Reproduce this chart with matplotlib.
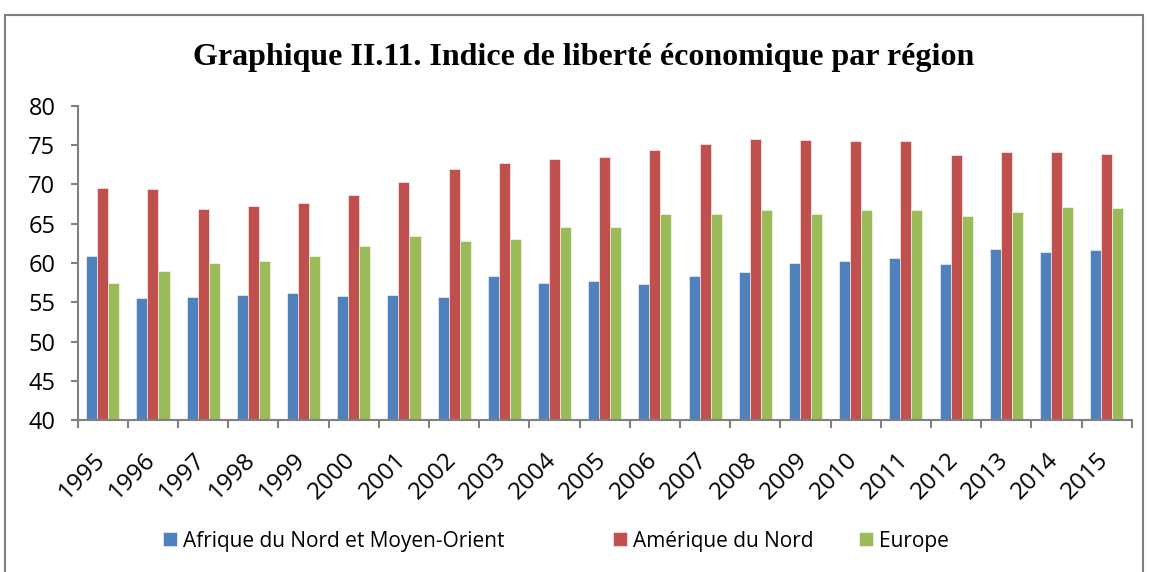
import matplotlib.pyplot as plt
import matplotlib.transforms as mtransforms
import numpy as np
from matplotlib.patches import Rectangle

# years on x-axis
years = [str(y) for y in range(1995, 2016)]

# index values
afrique = [60.9, 55.6, 55.7, 55.9, 56.2, 55.8, 55.9, 55.7, 58.4, 57.5, 57.65,
           57.3, 58.3, 58.8, 60.0, 60.3, 60.6, 59.85, 61.8, 61.4, 61.6]
amerique = [69.6, 69.4, 66.9, 67.3, 67.7, 68.6, 70.3, 72.0, 72.75, 73.3, 73.55,
            74.4, 75.1, 75.8, 75.7, 75.6, 75.5, 73.8, 74.1, 74.2, 73.9]
europe = [57.5, 59.0, 60.0, 60.2, 60.9, 62.2, 63.4, 62.8, 63.1, 64.6, 64.6,
          66.2, 66.3, 66.8, 66.3, 66.8, 66.8, 66.05, 66.55, 67.1, 67.0]

series = ["Afrique du Nord et Moyen-Orient", "Amérique du Nord", "Europe"]
colors = ["#4F81BD", "#C0504D", "#9BBB59"]

plt.rcParams['font.family'] = ['Open Sans', 'DejaVu Sans']

fig = plt.figure(figsize=(11.49, 5.72), dpi=100)
ax = fig.add_axes([0.0676, 0.2657, 0.9174, 0.549])

x = np.arange(len(years))
w = 0.22
bars = []
for i, (vals, col, name) in enumerate(zip([afrique, amerique, europe], colors, series)):
    b = ax.bar(x + (i - 1) * w, [v - 40 for v in vals], w, bottom=40, color=col,
               label=name, edgecolor="white", linewidth=0.4)
    bars.append(b)

ax.set_ylim(40, 80)
ax.set_xlim(-0.5, len(years) - 0.5)
ax.set_yticks(range(40, 81, 5))
ax.tick_params(axis='y', labelsize=17, length=5, color="#808080", width=1.5, pad=11)

# ticks between categories, labels at category centres
ax.set_xticks(np.arange(-0.5, len(years), 1.0))
ax.set_xticklabels([])
ax.set_xticks(x, minor=True)
ax.set_xticklabels(years, minor=True, rotation=45, ha='right',
                   rotation_mode='anchor', fontsize=17.5)
ax.tick_params(axis='x', which='major', length=6, color="#808080", width=1.5)
ax.tick_params(axis='x', which='minor', length=0, pad=20)
shift = mtransforms.ScaledTranslation(-0.1, 0, fig.dpi_scale_trans)
for lab in ax.get_xticklabels(minor=True):
    lab.set_transform(lab.get_transform() + shift)

for s in ['top', 'right']:
    ax.spines[s].set_visible(False)
for s in ['left', 'bottom']:
    ax.spines[s].set_color("#808080")
    ax.spines[s].set_linewidth(1.5)

fig.text(0.508, 0.9, "Graphique II.11. Indice de liberté économique par région",
         ha='center', va='center', fontsize=23, fontweight='bold',
         family='Liberation Serif')

# legend entries placed one by one, like the original
leg_x = [163, 613, 859]
for b, name, lx in zip(bars, series, leg_x):
    lg = fig.legend([b], [name], loc='center left',
                    bbox_to_anchor=(lx / 1149, 1 - 541 / 572), frameon=False,
                    fontsize=15, handlelength=0.65, handleheight=0.65,
                    handletextpad=0.3, borderpad=0, borderaxespad=0)

# outer chart frame
fig.patches.append(Rectangle((5 / 1149, -0.05), 1138 / 1149, 1.05 - 15 / 572,
                             transform=fig.transFigure, fill=False,
                             edgecolor="#808080", linewidth=1.5))

plt.savefig("out.png", dpi=100)
